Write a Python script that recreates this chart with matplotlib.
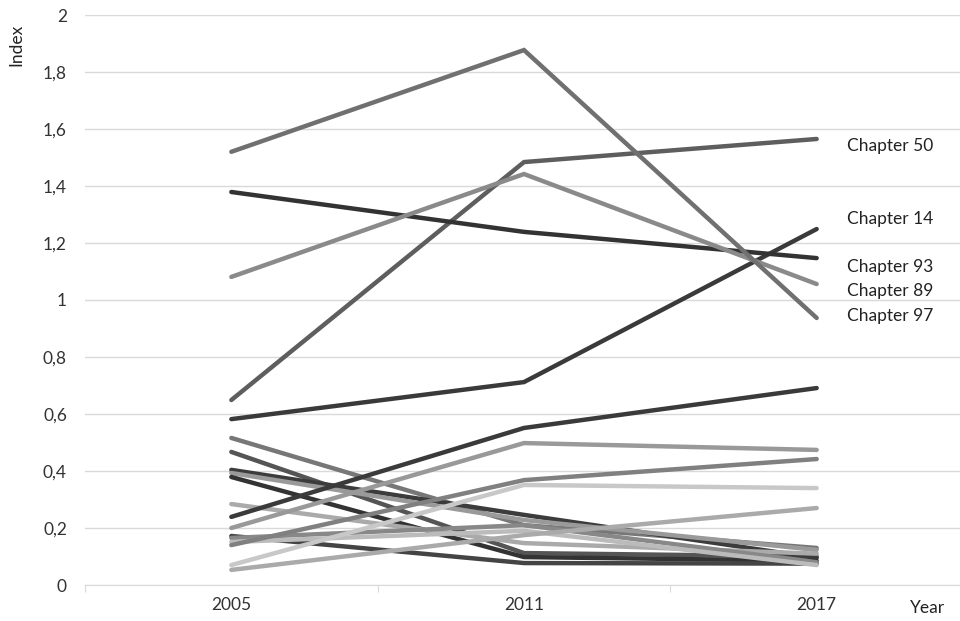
import numpy as np
import matplotlib
matplotlib.use("Agg")
import matplotlib.pyplot as plt

plt.rcParams['font.family'] = ['Lato', 'DejaVu Sans']

years = ['2005', '2011', '2017']

# labelled chapters
ch97 = [1.52, 1.877, 0.937]
ch50 = [0.649, 1.484, 1.565]
ch93 = [1.379, 1.239, 1.147]
ch89 = [1.081, 1.442, 1.056]
ch14 = [0.582, 0.712, 1.249]

# other chapters (unlabelled)
others = [
    [0.516, 0.210, 0.130],
    [0.467, 0.112, 0.100],
    [0.404, 0.246, 0.095],
    [0.393, 0.228, 0.123],
    [0.379, 0.098, 0.085],
    [0.284, 0.147, 0.110],
    [0.239, 0.551, 0.691],
    [0.200, 0.498, 0.474],
    [0.172, 0.077, 0.075],
    [0.165, 0.210, 0.080],
    [0.151, 0.190, 0.070],
    [0.140, 0.368, 0.442],
    [0.070, 0.351, 0.340],
    [0.053, 0.175, 0.270],
]
other_colors = ['#777777', '#555555', '#3c3c3c', '#9a9a9a', '#333333', '#aaaaaa', '#3a3a3a',
                '#999999', '#444444', '#888888', '#bbbbbb', '#808080', '#c8c8c8', '#aaaaaa']

labelled = [('Chapter 50', ch50, '#5e5e5e', 1.540),
            ('Chapter 14', ch14, '#3a3a3a', 1.284),
            ('Chapter 93', ch93, '#333333', 1.116),
            ('Chapter 89', ch89, '#8a8a8a', 1.032),
            ('Chapter 97', ch97, '#707070', 0.944)]

fig = plt.figure(figsize=(9.6, 6.21), dpi=100)
ax = fig.add_axes([85 / 960, 1 - 585 / 621, (963 - 85) / 960, 570 / 621])

x = np.arange(len(years))
for vals, c in zip(others, other_colors):
    ax.plot(x, vals, color=c, lw=3.2, solid_capstyle='round', solid_joinstyle='miter', zorder=3)
for name, vals, c, ly in labelled:
    ax.plot(x, vals, color=c, lw=3.2, solid_capstyle='round', solid_joinstyle='miter', zorder=4)
    ax.text(2.103, ly, name, fontsize=12.5, color='#222222', va='center', ha='left')

ax.set_xlim(-0.5, 2.5)
ax.set_ylim(0, 2)
ax.set_yticks(np.arange(0, 2.01, 0.2))
ax.set_yticklabels(['0', '0,2', '0,4', '0,6', '0,8', '1', '1,2', '1,4', '1,6', '1,8', '2'],
                   fontsize=12.5, color='#333333')
ax.yaxis.grid(True, color='#d9d9d9', lw=1)
ax.set_axisbelow(True)
ax.tick_params(axis='y', length=0, pad=13)

ax.set_xticks([-0.5, 0.5, 1.5, 2.5])
ax.set_xticklabels([])
ax.set_xticks(x, minor=True)
ax.set_xticklabels(years, minor=True, fontsize=12.5, color='#333333')
ax.tick_params(axis='x', which='major', length=5, color='#d9d9d9', direction='out')
ax.tick_params(axis='x', which='minor', length=0, pad=9)

for s in ['top', 'right', 'left']:
    ax.spines[s].set_visible(False)
ax.spines['bottom'].set_color('#d9d9d9')

fig.text(16 / 960, 1 - 45 / 621, 'Index', rotation=90, fontsize=12.5, color='#222222',
         ha='center', va='center')
fig.text(927 / 960, 1 - 608 / 621, 'Year', fontsize=12.5, color='#222222', ha='center', va='center')

fig.savefig('out.png', dpi=100)
